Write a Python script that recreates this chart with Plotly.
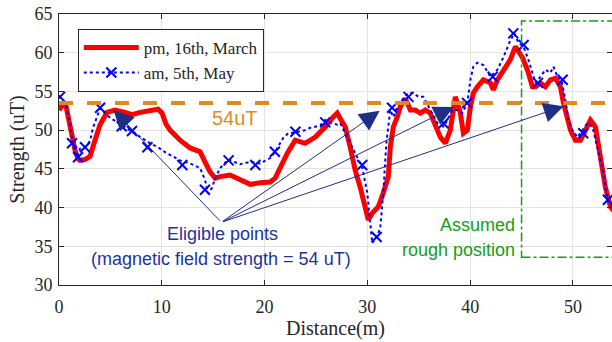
import plotly.graph_objects as go

# ---- data ----
red_x = [0.0, 0.2, 0.4, 0.7, 1.07, 1.56, 1.85, 2.04, 2.53, 3.02, 3.5, 3.99, 4.67, 5.45, 6.43, 7.1, 7.89, 8.86, 9.64, 10.03,
         10.4, 10.8, 11.78, 12.76, 13.73, 14.2, 14.7, 15.19, 15.68, 16.65, 17.62, 18.6, 19.57, 20.55, 21.03, 21.52, 22.2,
         22.98, 23.95, 24.93, 25.9, 26.68, 27.07, 27.36, 27.85, 28.33, 28.82, 29.31, 29.8, 30.09, 30.48, 31.06, 31.55,
         32.04, 32.23, 32.52, 32.91, 33.2, 33.69, 34.18, 34.66, 35.15, 35.64, 36.12, 36.81, 37.1, 37.58, 38.07, 38.56,
         39.05, 39.34, 39.73, 40.02, 40.31, 40.7, 41.29, 41.97, 42.26, 42.65, 43.23, 43.91, 44.4, 44.69, 45.08, 45.57,
         46.06, 46.35, 46.84, 47.32, 47.81, 48.3, 48.78, 49.08, 49.46, 49.76, 50.24, 50.73, 51.22, 51.7, 52.19, 52.48,
         52.87, 53.16, 53.65, 54.0]
red_y = [52.6, 53.0, 53.4, 53.0, 50.5, 47.4, 46.3, 46.1, 46.2, 46.6, 48.7, 50.7, 52.3, 52.6, 52.3, 52.0, 52.3, 52.6, 52.7, 52.2,
         50.8, 50.0, 48.7, 47.7, 47.2, 45.9, 44.6, 43.8, 44.0, 44.2, 43.6, 43.0, 43.2, 43.3, 43.8, 45.2, 47.0,
         48.7, 48.3, 49.1, 50.4, 51.7, 52.2, 51.5, 50.4, 47.8, 44.8, 42.6, 40.1, 38.4, 39.3, 40.1, 41.9,
         44.0, 47.8, 50.4, 51.7, 53.0, 54.1, 52.6, 52.6, 52.2, 52.6, 52.2, 50.0, 49.1, 48.3, 50.0, 54.3,
         52.2, 49.6, 50.0, 53.0, 54.8, 55.6, 56.5, 56.1, 55.2, 56.5, 57.8, 59.1, 60.8, 60.3, 59.4, 57.8,
         55.6, 55.6, 56.1, 55.6, 56.5, 56.7, 55.6, 53.5, 51.3, 50.0, 48.7, 48.7, 50.0, 51.3, 50.4, 47.8,
         44.8, 42.6, 40.1, 39.5]

blue_x = [0.0, 0.29, 0.68, 1.07, 1.36, 1.75, 2.04, 2.53, 3.02, 3.31, 3.7, 3.99, 4.48, 4.97, 5.94, 6.91, 7.89, 8.86, 9.64,
          10.03, 10.8, 11.78, 12.76, 13.73, 14.2, 14.5, 14.9, 15.19, 15.68, 16.46, 17.62, 18.6, 19.57, 20.55, 21.03,
          21.81, 22.3, 22.98, 23.95, 24.44, 25.41, 25.9, 26.39, 27.07, 27.36, 27.85, 28.33, 29.02, 29.5, 29.99, 30.28,
          30.48, 30.77, 30.96, 31.26, 31.55, 31.84, 32.23, 32.52, 32.91, 33.4, 33.98, 34.47, 34.96, 35.44, 36.12,
          36.81, 37.1, 37.39, 37.78, 38.27, 38.75, 39.24, 39.73, 40.02, 40.31, 40.7, 41.29, 41.97, 42.65, 43.23,
          43.91, 44.3, 44.69, 45.18, 45.67, 46.06, 46.35, 46.84, 47.32, 47.81, 48.1, 48.49, 48.88, 49.27, 49.56,
          49.95, 50.44, 50.93, 51.41, 51.9, 52.39, 52.97, 53.36, 53.75, 54.0]
blue_y = [54.4, 54.0, 53.4, 50.7, 48.3, 46.5, 47.6, 47.8, 48.6, 50.3, 51.8, 52.8, 52.2, 51.6, 50.8, 50.0, 49.1, 48.3, 47.8,
          47.4, 46.8, 46.1, 45.7, 45.1, 43.6, 41.8, 42.6, 43.8, 45.1, 46.2, 45.6, 45.9, 45.7, 46.4, 47.2,
          49.0, 49.6, 49.7, 50.0, 50.3, 50.6, 51.3, 51.0, 50.7, 50.9, 49.6, 48.3, 46.5, 45.2, 41.9, 38.4,
          35.4, 36.0, 36.2, 37.5, 41.9, 48.3, 52.6, 51.7, 53.0, 53.9, 54.8, 54.8, 54.3, 54.3, 52.6,
          50.9, 51.3, 50.4, 51.3, 52.6, 52.6, 52.2, 53.5, 56.5, 58.2, 58.7, 58.4, 56.9, 57.8, 59.4,
          61.6, 62.5, 61.3, 60.8, 59.1, 57.4, 56.1, 56.9, 57.8, 57.4, 58.2, 56.9, 56.5, 53.9, 51.3,
          50.0, 49.1, 50.0, 50.9, 50.4, 47.8, 44.5, 41.0, 40.1, 39.6]

marker_x = [0.1, 1.27, 1.85, 2.53, 4.0, 6.1, 7.1, 8.6, 12.0, 14.2, 16.5, 19.1, 21.0, 23.0, 25.9, 29.5, 30.9, 32.4,
            34.0, 37.4, 39.7, 42.2, 44.2, 45.2, 46.6, 49.0, 51.0, 53.4]
marker_y = [54.3, 48.3, 46.5, 47.8, 52.9, 50.5, 49.9, 47.8, 45.5, 42.3, 46.1, 45.5, 47.2, 49.8, 51.0, 45.5, 36.2, 52.9,
            54.3, 50.9, 53.5, 56.9, 62.5, 61.0, 56.1, 56.5, 49.6, 41.0]

threshold = 53.5
arrow_origin = (15.8, 38.1)
arrow_targets_x = [5.3, 31.2, 38.4, 49.1]
arrow_targets_y = [52.6, 52.5, 53.0, 53.1]
box_x = [45.0, 60.0]
box_y = [33.6, 64.1]

x_ticks = [0, 10, 20, 30, 40, 50]
y_ticks = [30, 35, 40, 45, 50, 55, 60, 65]

RED = "#ff0000"
BLUE = "#0000ff"
ORANGE = "#e38a1e"
GREEN = "#13a013"
NAVY = "#1f2f85"
TXTBLUE = "#2233a0"
SERIF = "Liberation Serif, Times New Roman, serif"
SANS = "Liberation Sans, Arial, sans-serif"

fig = go.Figure()

fig.add_trace(go.Scatter(x=red_x, y=red_y, mode="lines", name="pm, 16th, March",
                         line=dict(color=RED, width=5)))
fig.add_trace(go.Scatter(x=blue_x, y=blue_y, mode="lines", showlegend=False, legendgroup="b",
                         line=dict(color=BLUE, width=2, dash="dot")))
fig.add_trace(go.Scatter(x=marker_x, y=marker_y, mode="markers", showlegend=False, legendgroup="b",
                         marker=dict(symbol="x-thin", size=10, line=dict(color=BLUE, width=2), color=BLUE)))
fig.add_trace(go.Scatter(x=[None], y=[None], mode="lines+markers", name="am, 5th, May", legendgroup="b",
                         line=dict(color=BLUE, width=2, dash="dot"),
                         marker=dict(symbol="x-thin", size=10, line=dict(color=BLUE, width=2), color=BLUE)))

# threshold line
fig.add_shape(type="line", xref="x", yref="y", x0=0, x1=54, y0=threshold, y1=threshold,
              line=dict(color=ORANGE, width=4, dash="14px,14px"), layer="above")
# assumed rough position box
fig.add_shape(type="rect", xref="x", yref="y", x0=box_x[0], x1=box_x[1], y0=box_y[0], y1=box_y[1],
              line=dict(color=GREEN, width=1.5, dash="dashdot"), layer="above")

annotations = []
for tx, ty in zip(arrow_targets_x, arrow_targets_y):
    annotations.append(dict(x=tx, y=ty, ax=arrow_origin[0], ay=arrow_origin[1], xref="x", yref="y",
                            axref="x", ayref="y", text="", showarrow=True, arrowhead=2, arrowsize=4,
                            arrowwidth=1, arrowcolor=NAVY, standoff=0))
annotations += [
    dict(x=15.9, y=36.6, xref="x", yref="y", text="Eligible points", showarrow=False,
         font=dict(family=SANS, size=18, color=TXTBLUE)),
    dict(x=15.8, y=33.3, xref="x", yref="y", text="(magnetic field strength = 54 uT)", showarrow=False,
         font=dict(family=SANS, size=18, color=TXTBLUE)),
    dict(x=17.1, y=51.6, xref="x", yref="y", text="54uT", showarrow=False,
         font=dict(family=SANS, size=20, color=ORANGE)),
    dict(x=44.6, y=37.7, xref="x", yref="y", text="Assumed", showarrow=False, xanchor="right",
         font=dict(family=SANS, size=18, color=GREEN)),
    dict(x=44.6, y=34.5, xref="x", yref="y", text="rough position", showarrow=False, xanchor="right",
         font=dict(family=SANS, size=18, color=GREEN)),
]

fig.update_layout(
    width=612, height=342,
    margin=dict(l=59, r=0, t=14, b=57),
    paper_bgcolor="white", plot_bgcolor="white",
    annotations=annotations,
    showlegend=True,
    legend=dict(x=0.034, y=0.945, xanchor="left", yanchor="top",
                bgcolor="white", bordercolor="#262626", borderwidth=1,
                font=dict(family=SERIF, size=17, color="#262626"),
                tracegroupgap=0, itemwidth=55),
    xaxis=dict(range=[0, 53.8], tickvals=x_ticks, showgrid=True, gridcolor="#e3e3e3", gridwidth=1,
               showline=True, linecolor="#262626", linewidth=1, mirror="ticks", ticks="inside", ticklen=5,
               tickcolor="#262626", zeroline=False, ticklabelstandoff=5,
               tickfont=dict(family=SERIF, size=18, color="#262626"),
               title=dict(text="Distance(m)", font=dict(family=SERIF, size=20, color="#262626"), standoff=2)),
    yaxis=dict(range=[30, 65], tickvals=y_ticks, showgrid=True, gridcolor="#e3e3e3", gridwidth=1,
               showline=True, linecolor="#262626", linewidth=1, mirror="ticks", ticks="inside", ticklen=5,
               tickcolor="#262626", zeroline=False, ticklabelstandoff=2,
               tickfont=dict(family=SERIF, size=18, color="#262626"),
               title=dict(text="Strength (uT)", font=dict(family=SERIF, size=20, color="#262626"), standoff=4)),
)

fig.write_html("out.html")
